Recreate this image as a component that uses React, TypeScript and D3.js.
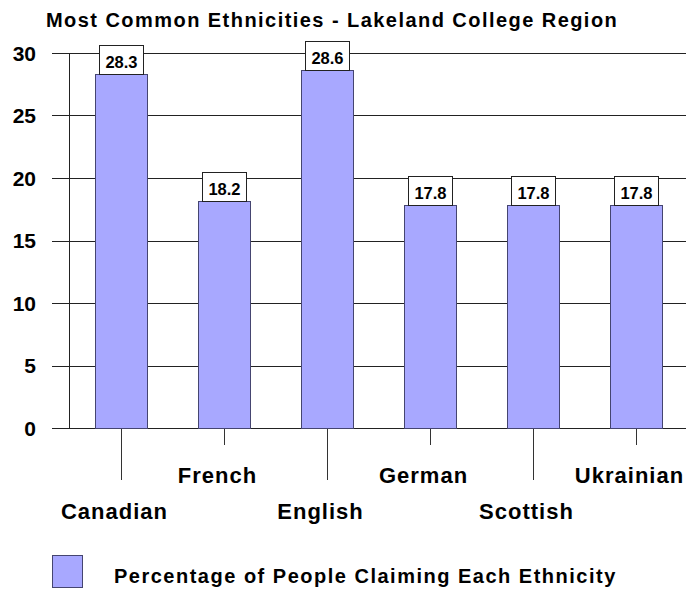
import React, { useEffect, useRef } from "react";
import * as d3 from "d3";

const categories = ["Canadian", "French", "English", "German", "Scottish", "Ukrainian"];
const values = [28.3, 18.2, 28.6, 17.8, 17.8, 17.8];
const yTicks = [0, 5, 10, 15, 20, 25, 30];

const title = "Most Common Ethnicities - Lakeland College Region";
const legendLabel = "Percentage of People Claiming Each Ethnicity";

const App: React.FC = () => {
  const svgRef = useRef<SVGSVGElement | null>(null);

  useEffect(() => {
    const svg = d3.select(svgRef.current);
    svg.selectAll("*").remove();
    const width = 686;
    const height = 590;
    const font = "'Liberation Sans', Arial, sans-serif";
    const barFill = "#a8a8ff";
    const barStroke = "#454570";

    const x = d3.scaleBand().domain(categories).range([69, 687]).paddingInner(0);
    const y = d3.scaleLinear().domain([0, 30]).range([428, 53]);
    const bw = x.bandwidth();

    svg.attr("width", width).attr("height", height);

    // title
    svg.append("text")
      .attr("x", 46)
      .attr("y", 27)
      .attr("font-family", font)
      .attr("font-weight", "bold")
      .attr("font-size", 20)
      .attr("letter-spacing", 1.45)
      .attr("fill", "#000")
      .text(title);

    // gridlines + y labels
    const grid = svg.append("g");
    grid.selectAll("line")
      .data(yTicks)
      .join("line")
      .attr("x1", 52)
      .attr("x2", width)
      .attr("y1", (d) => Math.round(y(d)) + 0.5)
      .attr("y2", (d) => Math.round(y(d)) + 0.5)
      .attr("stroke", "#222")
      .attr("stroke-width", 1);

    grid.selectAll("text")
      .data(yTicks)
      .join("text")
      .attr("x", 36)
      .attr("y", (d) => y(d))
      .attr("dy", "0.36em")
      .attr("text-anchor", "end")
      .attr("font-family", font)
      .attr("font-weight", "bold")
      .attr("font-size", 21)
      .attr("fill", "#000")
      .text((d) => d);

    // y axis line
    svg.append("line")
      .attr("x1", 69.5)
      .attr("x2", 69.5)
      .attr("y1", y(30))
      .attr("y2", y(0))
      .attr("stroke", "#222");

    // category ticks below axis (alternating lengths)
    svg.append("g")
      .selectAll("line")
      .data(categories)
      .join("line")
      .attr("x1", (d) => Math.round(x(d)! + bw / 2) + 0.5)
      .attr("x2", (d) => Math.round(x(d)! + bw / 2) + 0.5)
      .attr("y1", y(0))
      .attr("y2", (d, i) => (i % 2 === 0 ? 480 : 445))
      .attr("stroke", "#333");

    // bars
    svg.append("g")
      .selectAll("rect")
      .data(values)
      .join("rect")
      .attr("x", (d, i) => Math.round(x(categories[i])! + bw / 4) + 0.5)
      .attr("y", (d) => Math.round(y(d)) + 0.5)
      .attr("width", Math.round(bw / 2))
      .attr("height", (d) => Math.round(y(0)) - Math.round(y(d)))
      .attr("fill", barFill)
      .attr("stroke", barStroke)
      .attr("stroke-width", 1);

    // value label boxes
    const boxW = 44;
    const boxH = 29;
    const labels = svg.append("g")
      .selectAll("g")
      .data(values)
      .join("g")
      .attr("transform", (d, i) => `translate(${Math.round(x(categories[i])! + bw / 2 - boxW / 2) + 0.5},${Math.round(y(d) - boxH) + 0.5})`);
    labels.append("rect")
      .attr("width", boxW)
      .attr("height", boxH)
      .attr("fill", "#fff")
      .attr("stroke", "#222");
    labels.append("text")
      .attr("x", boxW / 2)
      .attr("y", 22)
      .attr("text-anchor", "middle")
      .attr("font-family", font)
      .attr("font-weight", "bold")
      .attr("font-size", 16.5)
      .attr("fill", "#000")
      .text((d) => d.toFixed(1));

    // category labels, staggered
    svg.append("g")
      .selectAll("text")
      .data(categories)
      .join("text")
      .attr("x", (d) => x(d)! + bw / 2 - 6)
      .attr("y", (d, i) => (i % 2 === 0 ? 519 : 483))
      .attr("text-anchor", "middle")
      .attr("font-family", font)
      .attr("font-weight", "bold")
      .attr("font-size", 22)
      .attr("letter-spacing", 1)
      .attr("fill", "#000")
      .text((d) => d);

    // legend
    svg.append("rect")
      .attr("x", 52.5)
      .attr("y", 555.5)
      .attr("width", 30)
      .attr("height", 32)
      .attr("fill", barFill)
      .attr("stroke", barStroke);
    svg.append("text")
      .attr("x", 114)
      .attr("y", 583)
      .attr("font-family", font)
      .attr("font-weight", "bold")
      .attr("font-size", 20)
      .attr("letter-spacing", 1.5)
      .attr("fill", "#000")
      .text(legendLabel);
  }, []);

  return (
    <svg
      ref={svgRef}
      style={{ position: "absolute", left: 0, top: 0, display: "block", background: "#fff" }}
    />
  );
};

export default App;
